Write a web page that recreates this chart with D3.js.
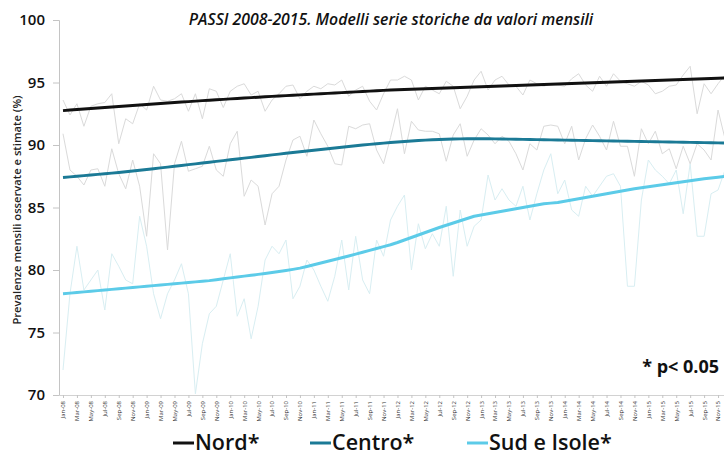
<!DOCTYPE html>
<html><head><meta charset="utf-8">
<script src="https://cdn.jsdelivr.net/npm/d3@7/dist/d3.min.js"></script>
<style>body{margin:0;background:#fff}svg{display:block}</style>
</head><body><svg id="c" width="724" height="456"></svg>
<script>
const monthNames=["Jan","Feb","Mar","Apr","May","Jun","Jul","Aug","Sep","Oct","Nov","Dec"];
const years=["08","09","10","11","12","13","14","15"];
const months=[];years.forEach(y=>monthNames.forEach(m=>months.push(m+"-"+y)));
const tickLabels=months.filter((d,i)=>i%2===0);
const yTicks=[70,75,80,85,90,95,100];

const nordObs=[93.6,92.4,93.3,91.5,93.1,93.3,93.4,94.1,90.1,92.1,91.7,93.3,92.8,94.7,93.6,93.5,93.7,94.1,92.7,94.1,92.1,94.5,94.3,93.0,
94.3,94.7,94.9,94.0,94.3,92.7,93.6,94.1,94.7,94.8,93.7,94.3,94.7,94.5,94.9,94.8,95.2,93.9,94.4,94.7,93.5,92.8,94.1,95.2,
95.2,95.5,95.2,93.6,94.7,94.4,94.1,95.1,94.7,92.9,93.9,95.2,95.9,94.4,95.2,95.5,94.8,94.7,94.0,95.2,94.9,94.7,94.9,94.8,
94.7,95.3,95.7,94.8,94.3,95.5,94.7,95.7,95.1,94.9,94.7,95.1,94.8,94.1,94.3,94.7,94.8,95.6,96.3,92.5,94.9,94.1,94.9,95.6];
const centroObs=[90.9,88.0,87.5,86.8,88.0,88.1,86.7,89.7,87.7,86.5,88.8,86.7,82.7,89.3,88.5,81.6,88.5,90.3,87.9,88.1,88.3,89.9,88.0,87.5,
90.1,91.1,85.9,87.2,86.7,83.6,86.1,86.7,88.8,90.4,90.7,89.1,92.0,90.9,89.9,88.5,88.4,91.5,91.3,91.6,91.7,89.6,88.5,90.6,
92.9,89.3,91.9,91.2,91.1,91.1,90.9,88.7,90.8,91.7,89.1,90.4,91.3,90.8,90.1,90.7,90.3,89.3,88.0,90.1,89.6,91.5,91.6,91.5,
90.1,91.5,88.8,90.5,91.6,90.7,89.6,91.9,89.9,89.9,87.5,91.3,90.1,91.1,89.3,89.7,88.1,89.9,88.5,90.1,89.6,88.8,92.8,90.5];
const sudObs=[72.0,78.1,81.9,78.4,79.2,80.0,76.8,81.3,80.3,79.2,78.9,84.3,81.9,78.1,76.1,78.1,79.2,80.5,78.1,70.1,74.1,76.5,77.1,79.2,
81.3,76.3,77.7,74.5,77.1,80.8,81.9,81.3,82.4,77.7,78.7,80.8,80.0,78.7,77.5,79.5,82.4,78.4,82.7,79.2,78.1,82.4,81.1,84.0,
85.1,86.0,80.0,83.7,81.7,82.9,81.9,85.1,79.5,84.8,81.9,83.5,84.0,87.6,85.6,86.5,85.6,85.1,86.7,84.0,86.1,88.0,89.3,86.1,
87.2,84.8,84.3,86.7,85.9,86.7,87.5,87.7,86.7,78.7,78.7,85.6,88.8,88.0,87.5,86.9,88.0,84.5,88.5,82.7,82.7,86.1,86.4,88.0];

const nordFit=[92.75,92.80,92.84,92.88,92.92,92.96,93.00,93.04,93.08,93.12,93.16,93.20,
93.24,93.28,93.32,93.36,93.40,93.44,93.47,93.51,93.55,93.58,93.62,93.65,
93.69,93.72,93.76,93.79,93.82,93.86,93.89,93.92,93.95,93.98,94.01,94.04,
94.07,94.10,94.13,94.16,94.19,94.22,94.25,94.28,94.31,94.34,94.37,94.40,
94.42,94.44,94.46,94.48,94.50,94.52,94.54,94.56,94.58,94.60,94.62,94.64,
94.66,94.68,94.70,94.72,94.74,94.76,94.78,94.80,94.82,94.84,94.86,94.88,
94.90,94.92,94.94,94.96,94.98,95.00,95.02,95.04,95.06,95.08,95.10,95.12,
95.14,95.16,95.18,95.20,95.22,95.24,95.26,95.28,95.30,95.32,95.34,95.36];
const centroFit=[87.40,87.45,87.50,87.55,87.60,87.65,87.70,87.75,87.80,87.86,87.92,87.98,
88.04,88.10,88.17,88.23,88.30,88.36,88.43,88.49,88.56,88.62,88.69,88.75,
88.82,88.88,88.95,89.01,89.08,89.14,89.21,89.27,89.34,89.40,89.46,89.52,
89.58,89.64,89.70,89.76,89.82,89.88,89.94,90.00,90.05,90.10,90.15,90.20,
90.24,90.28,90.32,90.36,90.39,90.42,90.44,90.46,90.48,90.49,90.50,90.50,
90.50,90.50,90.49,90.48,90.47,90.46,90.45,90.44,90.43,90.42,90.41,90.40,
90.39,90.38,90.37,90.36,90.35,90.34,90.33,90.32,90.31,90.30,90.29,90.28,
90.27,90.26,90.25,90.24,90.23,90.22,90.21,90.20,90.19,90.18,90.17,90.16];
const sudFit=[78.10,78.15,78.20,78.25,78.30,78.35,78.40,78.45,78.50,78.55,78.60,78.65,
78.70,78.75,78.80,78.85,78.90,78.95,79.00,79.05,79.10,79.15,79.22,79.30,
79.37,79.44,79.51,79.58,79.65,79.72,79.80,79.88,79.96,80.05,80.15,80.28,
80.42,80.56,80.70,80.84,80.98,81.12,81.27,81.42,81.57,81.72,81.87,82.02,
82.20,82.40,82.60,82.80,83.00,83.20,83.40,83.58,83.76,83.94,84.12,84.30,
84.40,84.50,84.60,84.70,84.80,84.90,85.00,85.10,85.20,85.30,85.35,85.40,
85.50,85.60,85.70,85.80,85.90,86.00,86.10,86.20,86.30,86.40,86.50,86.58,
86.66,86.74,86.82,86.90,86.98,87.06,87.14,87.22,87.30,87.36,87.42,87.48];

const seriesNames=["Nord*","Centro*","Sud e Isole*"];
const fitColors=["#111111","#1b7a96","#5ccbe8"];
const obsColors=["#dadada","#dadada","#d8eef2"];

const svg=d3.select("#c");
const FONT="'Open Sans', sans-serif";
const x=d3.scalePoint().domain(months).range([63,725]);
const y=d3.scaleLinear().domain([70,100]).range([395,20]);

// axes
const yAxis=svg.append("g").attr("transform","translate(59,0)")
  .call(d3.axisLeft(y).tickValues(yTicks).tickSize(6).tickPadding(8));
yAxis.select(".domain").attr("stroke","#c4c4c4");
yAxis.selectAll(".tick line").attr("stroke","#c4c4c4");
yAxis.selectAll(".tick text").attr("font-family",FONT).attr("font-size",15).attr("font-weight",600).attr("fill","#111");

const xAxis=svg.append("g").attr("transform","translate(0,395)")
  .call(d3.axisBottom(x).tickValues(tickLabels).tickSize(3).tickSizeOuter(0));
xAxis.select(".domain").attr("stroke","#d2d2d2").attr("d","M59,0.5H724");
xAxis.selectAll(".tick line").attr("stroke","#c4c4c4");
xAxis.selectAll(".tick text").attr("font-family",FONT).attr("font-size",6).attr("fill","#333")
  .attr("text-anchor","end").attr("dy","0.32em").attr("dx",0).attr("y",0)
  .attr("transform","translate(0,6) rotate(-90)");

const line=d3.line().x((d,i)=>x(months[i])).y(d=>y(d));
const obs=[nordObs,centroObs,sudObs];
const fits=[nordFit,centroFit,sudFit];
[2,1,0].forEach(k=>{
  svg.append("path").datum(obs[k]).attr("d",line).attr("fill","none")
   .attr("stroke",obsColors[k]).attr("stroke-width",1);
});
fits.forEach((f,k)=>{
  svg.append("path").datum(f).attr("d",line).attr("fill","none")
   .attr("stroke",fitColors[k]).attr("stroke-width",3).attr("stroke-linejoin","round");
});

// title
svg.append("text").attr("x",391).attr("y",25).attr("text-anchor","middle")
  .attr("font-family",FONT).attr("font-style","italic").attr("font-weight",600).attr("font-size",15.8)
  .attr("fill","#111").text("PASSI 2008-2015. Modelli serie storiche da valori mensili");

// y label
svg.append("text").attr("transform","translate(21,210) rotate(-90)").attr("text-anchor","middle")
  .attr("font-family",FONT).attr("font-weight",600).attr("font-size",11.2).attr("fill","#222")
  .text("Prevalenze mensili osservate e stimate  (%)");

// p value
svg.append("text").attr("x",719).attr("y",373).attr("text-anchor","end")
  .attr("font-family",FONT).attr("font-weight",700).attr("font-size",18).attr("fill","#111")
  .text("* p< 0.05");

// legend
const legX=[173,310,467];
seriesNames.forEach((n,k)=>{
  const g=svg.append("g").attr("transform",`translate(${legX[k]},0)`);
  g.append("line").attr("x1",0).attr("x2",21).attr("y1",443).attr("y2",443)
   .attr("stroke",fitColors[k]).attr("stroke-width",3);
  g.append("text").attr("x",22).attr("y",450).attr("font-family",FONT).attr("font-weight",600)
   .attr("font-size",21.5).attr("fill","#111").text(n);
});
</script></body></html>
